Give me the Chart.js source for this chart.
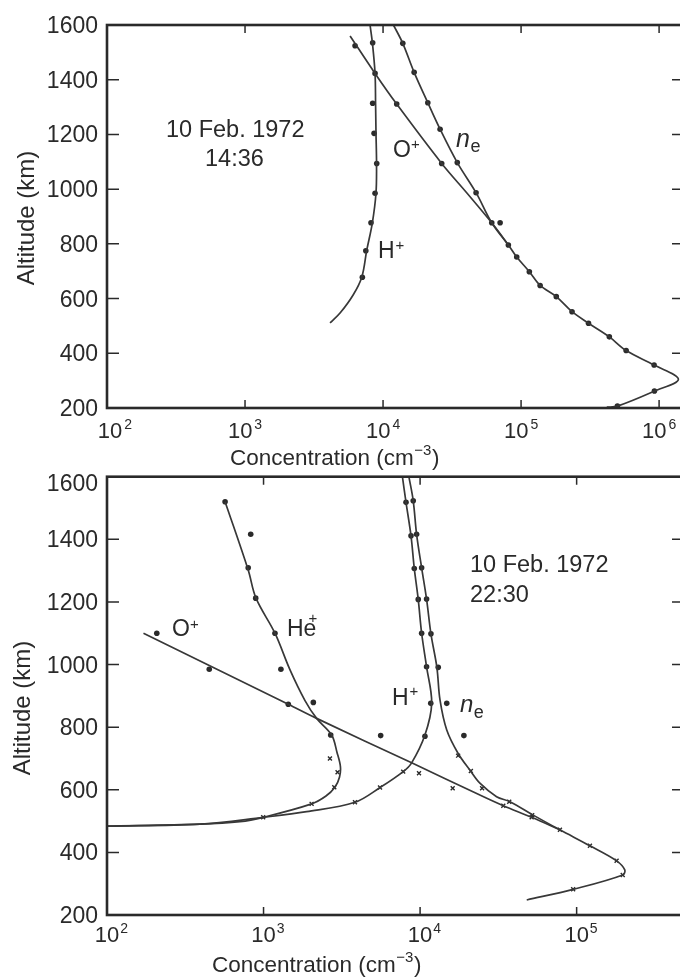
<!DOCTYPE html>
<html>
<head>
<meta charset="utf-8">
<title>Ion composition, 10 Feb. 1972</title>
<script src="https://cdn.jsdelivr.net/npm/chart.js@4.4.1/dist/chart.umd.min.js"></script>
<style>
  html, body { margin: 0; padding: 0; background: #fff; overflow: hidden; }
  canvas { position: absolute; left: 0; top: 0; }
</style>
</head>
<body>
<canvas id="dayChart" width="700" height="980"></canvas>
<canvas id="nightChart" width="700" height="980"></canvas>
<script>
// axis ticks: altitude in km, concentration decades (exponents of 10, cm^-3)
const altTicks = [200, 400, 600, 800, 1000, 1200, 1400, 1600];
const dayDecades = [2, 3, 4, 5, 6];
const nightDecades = [2, 3, 4, 5];
const concMin = 1e2;
const dayConcMax = 1.49e6;
const nightConcMax = 4.78e5;

// 14:36 profiles, each point is [concentration, altitude]
const dayHCurve = [[4130, 511], [4880, 547], [6070, 613], [7020, 679], [7620, 777], [8360, 876],
  [8890, 986], [8970, 1094], [8890, 1205], [8830, 1311], [8750, 1423], [8380, 1533], [8050, 1600]];
const dayHDots = [[8410, 1535], [8750, 1423], [8410, 1314], [8610, 1204], [9000, 1094],
  [8750, 985], [8180, 877], [7500, 775], [7080, 678]];
const dayOCurve = [[5770, 1560], [8750, 1423], [12560, 1311], [26600, 1094], [40500, 986],
  [61300, 877], [80900, 796], [93000, 752], [114800, 698], [137400, 648], [180000, 607],
  [234000, 552], [308000, 510], [436000, 460], [577000, 410], [920000, 357], [1380000, 305],
  [925000, 262], [499000, 207], [418000, 203]];
const dayODots = [[6270, 1524], [12560, 1311], [26600, 1094], [61300, 877], [80900, 796],
  [93000, 752], [114800, 698], [137400, 648], [180000, 607], [234000, 552], [308000, 510],
  [436000, 460], [577000, 410], [920000, 357], [925000, 262], [499000, 207]];
const dayNeCurve = [[11900, 1600], [13900, 1533], [16800, 1427], [21100, 1316], [25900, 1219],
  [34500, 1097], [47200, 987], [61300, 877], [80900, 796]];
const dayNeDots = [[13900, 1533], [16800, 1427], [21100, 1316], [25900, 1219], [34500, 1097],
  [47200, 987], [70500, 877]];

// 22:30 profiles
const nightHeCurve = [[568, 1520], [798, 1302], [895, 1212], [1183, 1100], [1476, 983],
  [1840, 885], [2183, 828], [2723, 775], [2944, 720], [3098, 674], [3055, 640], [2857, 608],
  [2505, 580], [2028, 555], [995, 512], [706, 498], [393, 490], [100, 484]];
const nightHeDots = [[568, 1520], [828, 1416], [798, 1309], [891, 1212], [1183, 1100],
  [1291, 985], [2080, 879], [2685, 775]];
const nightHeCross = [[2655, 700], [2970, 656], [2830, 608], [2028, 555], [995, 512]];
const nightHCurve = [[100, 484], [393, 490], [995, 512], [1884, 530], [3837, 560], [5546, 607],
  [7800, 658], [8830, 686], [10740, 775], [11860, 876], [11000, 993], [10230, 1100],
  [9730, 1208], [9180, 1307], [8750, 1411], [8130, 1518], [7710, 1600]];
const nightHDots = [[8130, 1518], [8750, 1411], [9180, 1307], [9730, 1208], [10230, 1100],
  [11000, 993], [11700, 876], [10740, 771]];
const nightHCross = [[7800, 658], [5546, 607], [3837, 560]];
const nightOCurve = [[171, 1100], [1439, 873], [2183, 828], [8830, 686], [24100, 583],
  [34000, 549], [51600, 512], [78200, 472]];
const nightODots = [[208, 1100], [450, 985], [1439, 873], [5600, 773]];
const nightOCross = [[9840, 653], [16150, 605], [34000, 549], [51600, 512]];
const nightNeCurve = [[8480, 1600], [9040, 1523], [9500, 1416], [10230, 1309], [11000, 1209],
  [11730, 1098], [12800, 991], [13400, 887], [14800, 791], [17500, 716], [20800, 663],
  [24100, 621], [30800, 578], [37500, 562], [52800, 519], [78200, 472], [121600, 421],
  [180000, 373], [203000, 344], [197000, 328], [95000, 282], [48000, 248]];
const nightNeDots = [[9040, 1523], [9500, 1416], [10230, 1309], [11000, 1209], [11730, 1098],
  [13060, 991], [14800, 876], [19050, 773]];
const nightNeCross = [[17500, 709], [21100, 660], [24900, 605], [37100, 562], [52000, 519],
  [78200, 472], [121600, 421], [180000, 373], [197000, 328], [95000, 282]];

const INK = '#2a2a2a';
const LINE = '#383838';
const FONT = "'Liberation Sans', Arial, Helvetica, sans-serif";

const toXY = pts => pts.map(p => ({ x: p[0], y: p[1] }));

function curve(pts) {
  return { data: toXY(pts), showLine: true, pointRadius: 0, borderColor: LINE,
    borderWidth: 1.7, tension: 0.35, fill: false };
}
function dots(pts) {
  return { data: toXY(pts), showLine: false, pointStyle: 'circle', pointRadius: 2.8,
    pointBackgroundColor: INK, pointBorderColor: INK, pointBorderWidth: 0 };
}
function crosses(pts) {
  return { data: toXY(pts), showLine: false, pointStyle: 'crossRot', pointRadius: 2.8,
    pointBorderColor: INK, pointBorderWidth: 1.4 };
}

// draws a run of text pieces (base letters, superscripts, subscripts) left to right
function rich(ctx, x, y, parts) {
  let cx = x;
  ctx.textAlign = 'left';
  ctx.textBaseline = 'alphabetic';
  parts.forEach(p => {
    ctx.font = (p.italic ? 'italic ' : '') + p.size + 'px ' + FONT;
    cx += p.dx || 0;
    ctx.fillText(p.t, cx, y + (p.dy || 0));
    cx += ctx.measureText(p.t).width;
  });
}

// box, inward ticks, tick labels, axis titles and curve labels
const frame = {
  id: 'frame',
  afterDatasetsDraw(chart, args, o) {
    const { ctx, chartArea: a, scales: { x, y } } = chart;
    ctx.save();
    ctx.strokeStyle = INK;
    ctx.fillStyle = INK;

    ctx.lineWidth = 1.5;
    ctx.beginPath();
    o.decades.forEach(d => {
      const px = x.getPixelForValue(Math.pow(10, d));
      if (px <= a.left + 1) return;
      ctx.moveTo(px, a.top); ctx.lineTo(px, a.top + 8);
      ctx.moveTo(px, a.bottom); ctx.lineTo(px, a.bottom - 8);
    });
    altTicks.forEach(v => {
      if (v === altTicks[0] || v === altTicks[altTicks.length - 1]) return;
      const py = y.getPixelForValue(v);
      ctx.moveTo(a.left, py); ctx.lineTo(a.left + 12, py);
      ctx.moveTo(a.right, py); ctx.lineTo(a.right - 11, py);
    });
    ctx.stroke();

    ctx.lineWidth = 2.6;
    ctx.strokeRect(a.left, a.top, a.right - a.left, a.bottom - a.top);

    // altitude labels
    ctx.font = '23px ' + FONT;
    ctx.textAlign = 'right';
    ctx.textBaseline = 'alphabetic';
    altTicks.forEach((v, i) => {
      let py = y.getPixelForValue(v) + 8;
      if (i === altTicks.length - 1) py += o.topLabelShift;
      ctx.fillText(String(v), 98, py);
    });

    // decade labels 10^n
    o.decades.forEach((d, i) => {
      const px = x.getPixelForValue(Math.pow(10, d));
      ctx.font = '22px ' + FONT;
      const wb = ctx.measureText('10').width;
      ctx.font = '14px ' + FONT;
      const we = ctx.measureText(String(d)).width;
      let left = o.centerWhole ? px - (wb + o.expGap + we) / 2 : px - wb / 2;
      if (i === 0) left += o.firstShift;
      rich(ctx, left, o.labelY, [
        { t: '10', size: 22 },
        { t: String(d), size: 14, dy: -9, dx: o.expGap }
      ]);
    });

    // axis titles
    rich(ctx, o.titleX, o.titleY, [
      { t: 'Concentration (cm', size: 22.5 },
      { t: '\u22123', size: 15, dy: -10, dx: 0.5 },
      { t: ')', size: 22.5, dx: 0.5 }
    ]);
    ctx.save();
    ctx.translate(o.altX, o.altY);
    ctx.rotate(-Math.PI / 2);
    ctx.font = '24px ' + FONT;
    ctx.textAlign = 'center';
    ctx.fillText('Altitude (km)', 0, 0);
    ctx.restore();

    o.notes.forEach(n => rich(ctx, n.x, n.y, n.parts));
    ctx.restore();
  }
};

function makeChart(id, datasets, xMax, area, opts) {
  return new Chart(document.getElementById(id), {
    type: 'scatter',
    data: { datasets },
    options: {
      responsive: false,
      animation: false,
      devicePixelRatio: 1,
      layout: { padding: { left: area.left, top: area.top, right: 700 - area.right, bottom: 980 - area.bottom } },
      plugins: { legend: { display: false }, tooltip: { enabled: false }, frame: opts },
      scales: {
        x: { type: 'logarithmic', min: concMin, max: xMax, bounds: 'data', display: false },
        y: { type: 'linear', min: altTicks[0], max: altTicks[altTicks.length - 1], display: false }
      }
    },
    plugins: [frame]
  });
}

const ion = (x, y, base, sup, supDx, supDy) => ({ x, y, parts: [
  { t: base, size: 23 }, { t: sup, size: 15, dx: supDx, dy: supDy }] });
const ne = (x, y, nSize, eDy) => ({ x, y, parts: [
  { t: 'n', size: nSize, italic: true }, { t: 'e', size: 18, dx: 0.5, dy: eDy }] });
const plain = (x, y, t) => ({ x, y, parts: [{ t, size: 23.5 }] });

makeChart('dayChart', [
  curve(dayHCurve), curve(dayOCurve), curve(dayNeCurve),
  dots(dayHDots), dots(dayODots), dots(dayNeDots)
], dayConcMax, { left: 107, top: 25, right: 683, bottom: 408 }, {
  decades: dayDecades, topLabelShift: 0, centerWhole: true, firstShift: 8, expGap: 2,
  labelY: 437.5, titleX: 230, titleY: 465, altX: 34, altY: 218,
  notes: [
    plain(166, 137, '10 Feb. 1972'), plain(205, 166, '14:36'),
    ion(393, 157, 'O', '+', 0, -8),
    ion(378, 258, 'H', '+', 1, -8),
    ne(456, 147, 25, 5)
  ]
});

makeChart('nightChart', [
  curve(nightHeCurve), curve(nightHCurve), curve(nightOCurve), curve(nightNeCurve),
  dots(nightHeDots), dots(nightHDots), dots(nightODots), dots(nightNeDots),
  crosses(nightHeCross), crosses(nightHCross), crosses(nightOCross), crosses(nightNeCross)
], nightConcMax, { left: 107, top: 476.7, right: 683, bottom: 915 }, {
  decades: nightDecades, topLabelShift: 6, centerWhole: false, firstShift: 0, expGap: 1,
  labelY: 941.5, titleX: 212, titleY: 972, altX: 30, altY: 708,
  notes: [
    plain(470, 572, '10 Feb. 1972'), plain(470, 602, '22:30'),
    ion(172, 636, 'O', '+', 0, -7),
    ion(287, 636, 'He', '+', -8, -13),
    ion(392, 705, 'H', '+', 1, -9),
    ne(460, 712, 24, 6)
  ]
});
</script>
</body>
</html>
